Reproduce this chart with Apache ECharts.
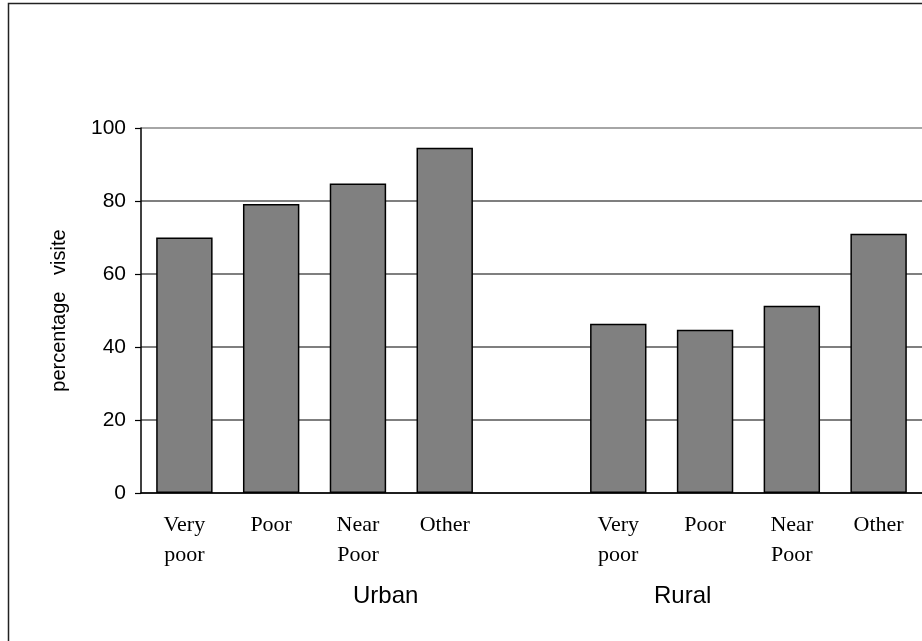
<!DOCTYPE html>
<html>
<head>
<meta charset="utf-8">
<script src="https://cdn.jsdelivr.net/npm/echarts@6/dist/echarts.min.js"></script>
<style>
html,body{margin:0;padding:0;background:#fff;}
#c{width:922px;height:641px;}
</style>
</head>
<body>
<div id="c"></div>
<script>
var groups = ['Urban', 'Rural'];
var subCategories = ['Very\npoor', 'Poor', 'Near\nPoor', 'Other'];
var urbanValues = [70.0, 79.2, 84.8, 94.6];
var ruralValues = [46.4, 44.7, 51.3, 71.0];
var yTicks = [0, 20, 40, 60, 80, 100];
var yName = 'percentage   visited';

var categories = subCategories.concat(['']).concat(subCategories);
var values = urbanValues.concat([null]).concat(ruralValues);

var chart = echarts.init(document.getElementById('c'));
chart.setOption({
  backgroundColor: '#fff',
  animation: false,
  grid: { left: 141, right: -5, top: 128, bottom: 148 },
  xAxis: {
    type: 'category',
    data: categories,
    axisLine: { show: true, lineStyle: { color: '#000', width: 1.5 } },
    axisTick: { show: false },
    axisLabel: {
      interval: 0,
      margin: 17,
      fontFamily: 'Liberation Serif',
      fontSize: 22,
      lineHeight: 30,
      color: '#000',
      verticalAlign: 'top'
    },
    splitLine: { show: false }
  },
  yAxis: {
    type: 'value',
    min: yTicks[0],
    max: yTicks[yTicks.length - 1],
    interval: 20,
    name: yName,
    nameLocation: 'middle',
    nameGap: 72,
    nameRotate: 90,
    nameTruncate: { maxWidth: 166, ellipsis: '' },
    nameTextStyle: {
      fontFamily: 'Liberation Sans',
      fontSize: 20,
      color: '#000'
    },
    axisLine: { show: true, lineStyle: { color: '#000', width: 1.5 } },
    axisTick: { show: true, length: 6, lineStyle: { color: '#000', width: 1.2 } },
    axisLabel: {
      margin: 15,
      fontFamily: 'Liberation Sans',
      fontSize: 21,
      color: '#000'
    },
    splitLine: {
      show: true,
      lineStyle: { color: ['#555', '#555', '#555', '#555', '#555', '#888'], width: 1.5 }
    }
  },
  series: [{
    type: 'bar',
    data: values,
    barCategoryGap: '35%',
    itemStyle: { color: '#808080', borderColor: '#000', borderWidth: 1.5 }
  }],
  graphic: [
    {
      type: 'rect',
      shape: { x: 8.5, y: 3.5, width: 1200, height: 1000 },
      style: { fill: null, stroke: '#222', lineWidth: 1.5 },
      silent: true
    },
    {
      type: 'text',
      left: 387 - 34, top: 598 - 14,
      style: { text: groups[0], font: '24px "Liberation Sans"', fill: '#000' }
    },
    {
      type: 'text',
      left: 683 - 29, top: 598 - 14,
      style: { text: groups[1], font: '24px "Liberation Sans"', fill: '#000' }
    }
  ]
});
</script>
</body>
</html>
